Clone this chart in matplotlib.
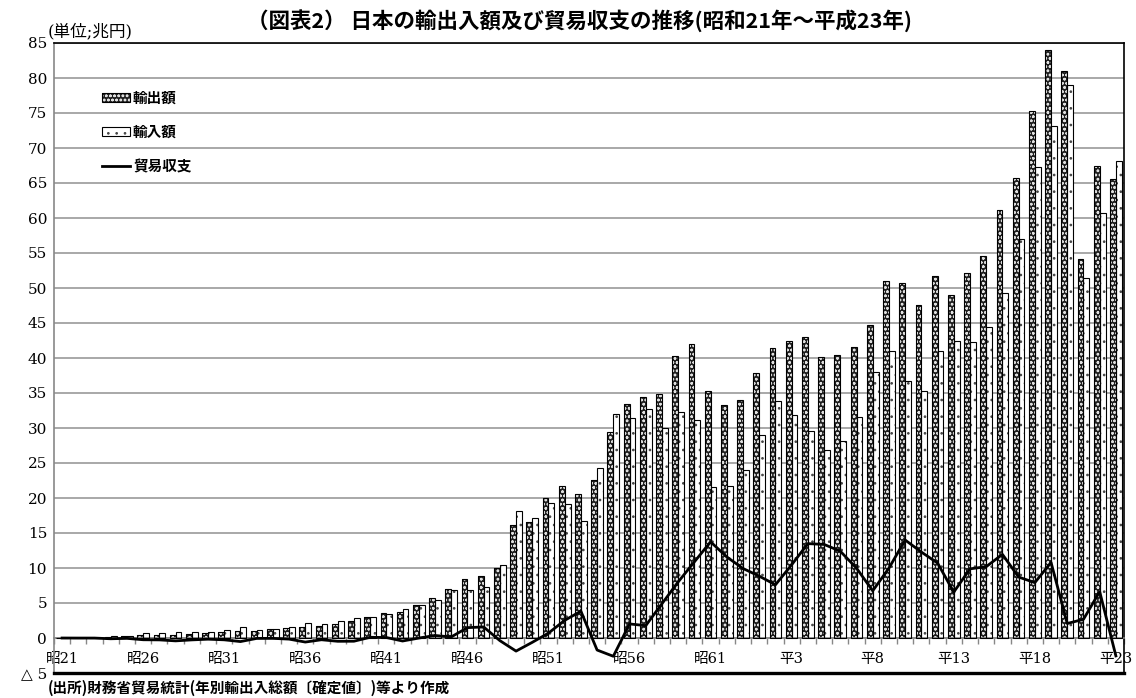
import numpy as np
import matplotlib
matplotlib.use("Agg")
import matplotlib.pyplot as plt
from matplotlib.patches import Patch
from matplotlib.lines import Line2D
from matplotlib.legend_handler import HandlerTuple

plt.rcParams["font.family"] = ["Noto Sans CJK JP", "DejaVu Sans"]
plt.rcParams["hatch.linewidth"] = 0.7
SERIF = ["DejaVu Serif", "Noto Sans CJK JP", "DejaVu Sans"]

# 昭和21年(1946) ～ 平成23年(2011), 単位: 兆円
years = list(range(1946, 2012))
exports = [0.002, 0.010, 0.052, 0.17, 0.30, 0.49, 0.46, 0.46, 0.59, 0.72,
           0.90, 1.03, 1.03, 1.24, 1.46, 1.52, 1.78, 1.98, 2.40, 3.04,
           3.52, 3.76, 4.67, 5.76, 6.95, 8.39, 8.81, 10.03, 16.21, 16.55,
           19.93, 21.65, 20.56, 22.53, 29.38, 33.47, 34.43, 34.91, 40.33, 41.96,
           35.29, 33.32, 33.94, 37.82, 41.46, 42.36, 43.01, 40.20, 40.50, 41.53,
           44.73, 50.94, 50.65, 47.55, 51.65, 48.98, 52.11, 54.55, 61.17, 65.66,
           75.25, 83.93, 81.02, 54.17, 67.40, 65.55]
imports = [0.004, 0.020, 0.061, 0.28, 0.35, 0.74, 0.73, 0.87, 0.86, 0.89,
           1.16, 1.54, 1.09, 1.29, 1.62, 2.10, 2.03, 2.45, 2.86, 2.94,
           3.45, 4.19, 4.68, 5.40, 6.80, 6.91, 7.23, 10.40, 18.08, 17.17,
           19.23, 19.13, 16.73, 24.25, 31.99, 31.46, 32.66, 30.01, 32.32, 31.08,
           21.55, 21.74, 24.01, 28.98, 33.86, 31.90, 29.53, 26.83, 28.10, 31.55,
           37.99, 40.96, 36.65, 35.27, 40.94, 42.42, 42.23, 44.36, 49.22, 56.95,
           67.34, 73.14, 78.95, 51.50, 60.77, 68.11]
balance = [-0.002, -0.010, -0.009, -0.11, -0.05, -0.25, -0.27, -0.41, -0.27, -0.17,
           -0.26, -0.51, -0.06, -0.05, -0.16, -0.58, -0.25, -0.47, -0.46, 0.10,
           0.07, -0.43, -0.01, 0.36, 0.15, 1.48, 1.58, -0.37, -1.87, -0.62,
           0.70, 2.52, 3.83, -1.72, -2.61, 2.01, 1.77, 4.90, 8.01, 10.88,
           13.74, 11.58, 9.93, 8.84, 7.60, 10.46, 13.48, 13.37, 12.40, 9.98,
           6.74, 9.98, 14.00, 12.28, 10.71, 6.56, 9.88, 10.19, 11.95, 8.71,
           7.91, 10.80, 2.07, 2.67, 6.63, -2.56]


def era_label(y):
    return f"昭{y - 1925}" if y < 1989 else f"平{y - 1988}"


x = np.arange(len(years))
bw = 0.36
EXP_FACE, EXP_HATCH = "#1e1e1e", "#e0e0e0"
IMP_FACE, IMP_HATCH = "white", "#444444"

fig = plt.figure(figsize=(11.36, 6.98), dpi=100)
ax = fig.add_axes([54 / 1136, 25 / 698, 1070 / 1136, 630 / 698])

# 輸出額: dark fill with light pattern, black outline drawn on top
ax.bar(x - bw / 2, exports, bw, color=EXP_FACE, edgecolor=EXP_HATCH,
       hatch="oooo", linewidth=0, zorder=2)
ax.bar(x - bw / 2, exports, bw, fill=False, edgecolor="black", linewidth=0.8, zorder=3)
# 輸入額: white fill with dots
ax.bar(x + bw / 2, imports, bw, color=IMP_FACE, edgecolor=IMP_HATCH,
       hatch="..", linewidth=0, zorder=2)
ax.bar(x + bw / 2, imports, bw, fill=False, edgecolor="black", linewidth=0.8, zorder=3)
# 貿易収支
ax.plot(x, balance, color="black", lw=2, zorder=4)

ax.set_xlim(-0.5, len(years) - 0.5)
ax.set_ylim(-5, 85)
yt = np.arange(-5, 86, 5)
ax.set_yticks(yt)
ax.set_yticklabels(["△ 5" if v < 0 else str(v) for v in yt], family=SERIF, fontsize=11)
ax.tick_params(axis="y", length=0, pad=5)
ax.yaxis.grid(True, color="#999999", lw=1.2, zorder=0)
ax.set_axisbelow(True)

# category axis sits on the zero line
ax.spines["bottom"].set_position(("data", 0))
ax.spines["bottom"].set_color("#888888")
ax.spines["bottom"].set_linewidth(1.2)
ax.spines["left"].set_color("#888888")
ax.spines["left"].set_linewidth(1.2)
ax.spines["top"].set_linewidth(1.2)
ax.spines["right"].set_linewidth(1.2)
ax.axhline(-5, color="black", lw=2.4, clip_on=False, zorder=5)

major = x[::5]
ax.set_xticks(major)
ax.set_xticklabels([era_label(years[i]) for i in major], family=SERIF, fontsize=10.5)
ax.set_xticks(np.arange(-0.5, len(years), 1), minor=True)
ax.tick_params(axis="x", which="major", length=0, pad=10)
ax.tick_params(axis="x", which="minor", length=4, width=1, color="#888888", direction="out")

h_exp = (Patch(facecolor=EXP_FACE, edgecolor=EXP_HATCH, hatch="oooo", lw=0),
         Patch(fill=False, edgecolor="black", lw=0.8))
h_imp = (Patch(facecolor=IMP_FACE, edgecolor=IMP_HATCH, hatch="..", lw=0),
         Patch(fill=False, edgecolor="black", lw=0.8))
h_bal = Line2D([], [], color="black", lw=2)
ax.legend([h_exp, h_imp, h_bal], ["輸出額", "輸入額", "貿易収支"],
          handler_map={tuple: HandlerTuple(ndivide=1)},
          loc="upper left", bbox_to_anchor=(0.033, 0.947), frameon=False,
          handlelength=1.9, handleheight=0.6, handletextpad=0.2,
          labelspacing=1.25, prop={"weight": "bold", "size": 10.5})

fig.text(0.51, 0.971, "（図表2） 日本の輸出入額及び貿易収支の推移(昭和21年～平成23年)",
         ha="center", va="center", fontsize=15.5, fontweight="bold")
fig.text(48 / 1136, 1 - 32 / 698, "(単位;兆円)", ha="left", va="center",
         family=SERIF, fontsize=12)
fig.text(48 / 1136, 1 - 688 / 698, "(出所)財務省貿易統計(年別輸出入総額〔確定値〕)等より作成",
         ha="left", va="center", fontsize=10.5, fontweight="bold")

fig.savefig("out.png", dpi=100)
